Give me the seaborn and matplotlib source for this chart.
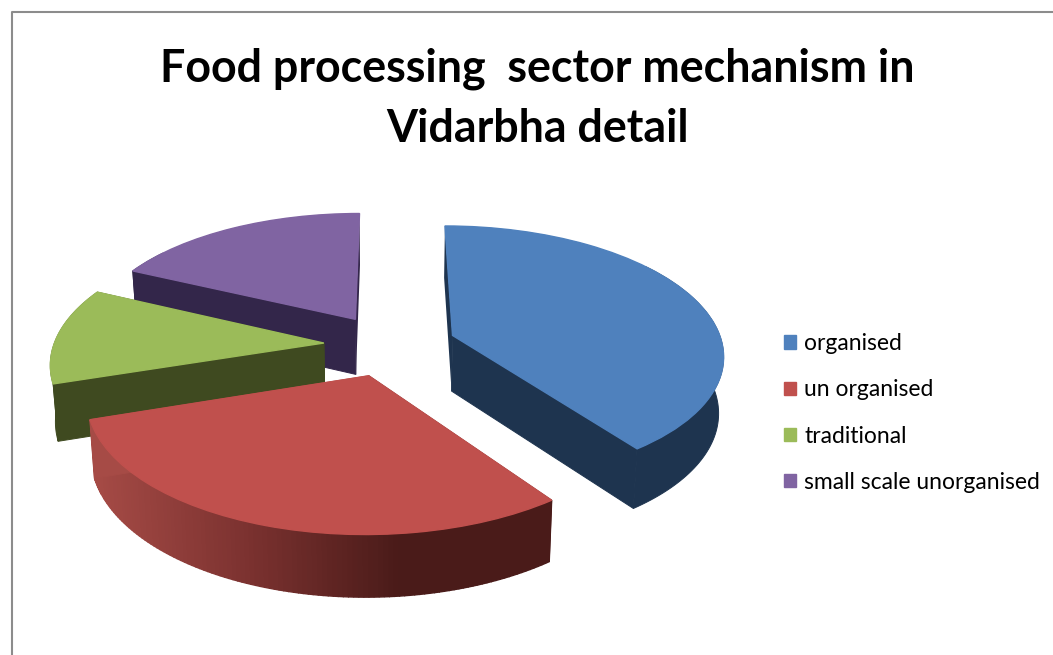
import numpy as np
import matplotlib
matplotlib.use("Agg")
import matplotlib.pyplot as plt
from matplotlib.colors import LinearSegmentedColormap
from matplotlib.transforms import Transform
import seaborn as sns

# chart data
labels = ["organised", "un organised", "traditional", "small scale unorganised"]
shares = [40, 30, 12, 18]
chart_title = "Food processing  sector mechanism in\nVidarbha detail"

sns.set_theme(style="white")
plt.rcParams["font.family"] = ["Lato", "DejaVu Sans"]

top_colors = sns.color_palette(["#4F81BD", "#C0504D", "#9BBB59", "#8064A2"])
side_colors = ["#1E344F", "#7A302D", "#3F4A20", "#33264A"]
red_side = LinearSegmentedColormap.from_list("red_side", ["#A64B46", "#7C3230", "#4A1B19", "#4A1B19"])

CX, CY = 390, 345
RX, TILT, DIST = 270, 127.2, 7.18


# tilts the flat pie into picture pixels, far side smaller than near side
class Tilt(Transform):
    input_dims = 2
    output_dims = 2
    is_affine = False
    has_inverse = False

    def transform_non_affine(self, values):
        xy = np.asarray(values, dtype=float)
        s = DIST / (DIST + xy[:, 1])
        return np.column_stack([CX + RX * xy[:, 0] * s, CY - TILT * xy[:, 1] * s])


tilt = Tilt()


def lower(pts):
    # same outline on the bottom face of the slice
    off = pts[:, 1] - CY
    return np.column_stack([CX + 0.985 * (pts[:, 0] - CX), CY + off * 1.035 + 56])


fig = plt.figure(figsize=(10.53, 6.55), dpi=100)
ax = fig.add_axes([0, 0, 1, 1])

wedges, _ = ax.pie(shares, explode=[0.246] * 4, startangle=90, counterclock=False, colors=top_colors,
                   wedgeprops={"linewidth": 0})
ax.set_aspect("auto")
ax.set_xlim(0, 1053)
ax.set_ylim(655, 0)
ax.axis("off")

# back slices first so the front ones cover them
for z, i in enumerate([3, 0, 2, 1]):
    w = wedges[i]
    t = np.radians(np.linspace(w.theta1, w.theta2, 120))
    arc = tilt.transform(np.column_stack([w.center[0] + w.r * np.cos(t), w.center[1] + w.r * np.sin(t)]))
    apex = tilt.transform(np.array([w.center]))
    base = 10 * z + 1
    # curved outer wall, only the part facing the viewer
    front = np.sin(t) < 0.6
    if i == 1:
        # red one has a shaded wall, strip by strip
        low = lower(arc)
        for k in range(len(arc) - 1):
            quad = np.vstack([arc[k:k + 2], low[k:k + 2][::-1]])
            c = red_side((arc[k, 0] - 90) / 460)
            ax.fill(quad[:, 0], quad[:, 1], color=c, lw=1.0, zorder=base)
    elif front.any():
        wall = np.vstack([arc[front], lower(arc[front])[::-1]])
        ax.fill(wall[:, 0], wall[:, 1], color=side_colors[i], lw=0.7, zorder=base)
    # the two cut faces
    for n, edge in zip([0, -1], [arc[:1], arc[-1:]]):
        quad = np.vstack([apex, edge, lower(edge), lower(apex)])
        width = 0 if np.sin(t[n]) > 0.9 else 0.7
        c = side_colors[i]
        if i == 1:
            c = red_side((edge[0, 0] - 90) / 460)
        ax.fill(quad[:, 0], quad[:, 1], color=c, lw=width, zorder=base + 1)
    # top face gets an own-colour stroke so it covers the wall strokes
    w.set_edgecolor(top_colors[i])
    w.set_linewidth(1.0)
    w.set_transform(tilt + ax.transData)
    w.set_zorder(base + 2)

# chart frame, cut off by the picture on two sides
ax.plot([12, 12, 1053], [655, 12, 12], color="#8C8C8C", lw=1.5, zorder=50, clip_on=False)

fig.text(537, 655 - 98.5, chart_title, transform=None, ha="center", va="center",
         fontsize=32.2, fontweight="bold", color="black", linespacing=1.52)

leg = ax.legend(wedges, labels, loc="center left", bbox_to_anchor=(773 / 1053, 1 - 413 / 655),
                frameon=False, fontsize=16.5, handlelength=0.52, handleheight=0.52,
                handletextpad=0.35, labelspacing=1.1, borderpad=0, labelcolor="black")

fig.savefig("out.png", dpi=100)
